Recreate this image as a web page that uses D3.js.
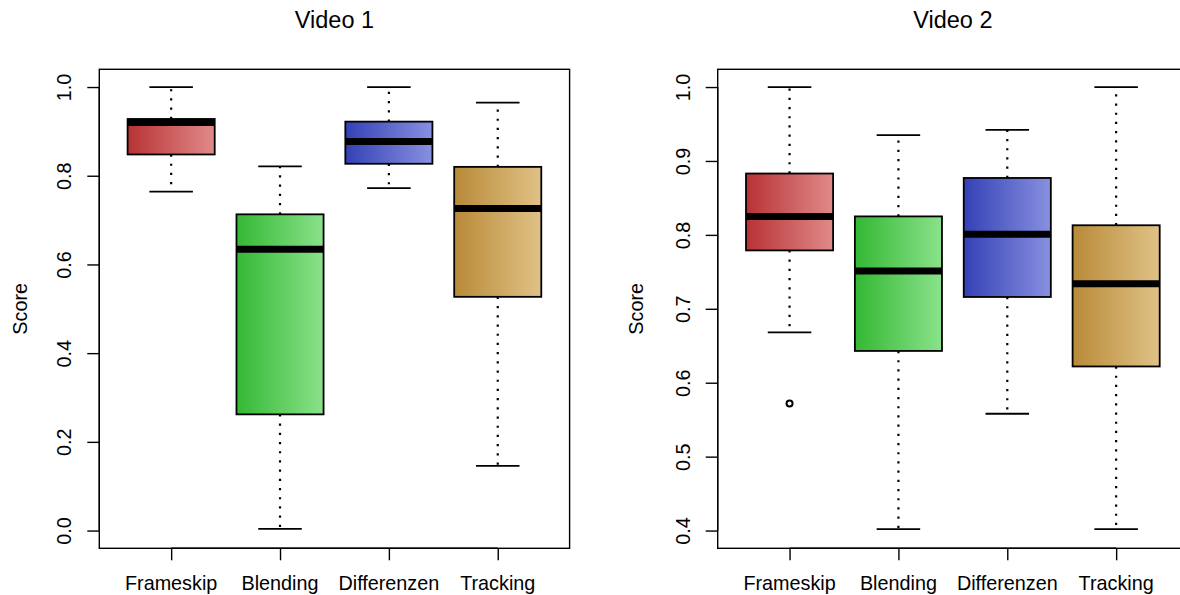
<!DOCTYPE html>
<html>
<head>
<meta charset="utf-8">
<script src="https://cdn.jsdelivr.net/npm/d3@7"></script>
<style>
  html, body { margin: 0; padding: 0; background: #fff; }
  svg { display: block; }
  text { font-family: "Liberation Sans", Arial, sans-serif; fill: #000; }
</style>
</head>
<body>
<svg id="chart" width="1180" height="595"></svg>
<script>
// Methods compared in each video
const categories = ["Frameskip", "Blending", "Differenzen", "Tracking"];

// Video 1 box statistics (whisker ends, quartiles, median)
const v1Lower  = [0.764, 0.004, 0.772, 0.146];
const v1Q1     = [0.848, 0.262, 0.827, 0.527];
const v1Median = [0.920, 0.634, 0.877, 0.726];
const v1Q3     = [0.928, 0.713, 0.922, 0.820];
const v1Upper  = [1.000, 0.821, 1.000, 0.965];
const v1Ticks  = [0.0, 0.2, 0.4, 0.6, 0.8, 1.0];
const v1Domain = [0, 1];

// Video 2 box statistics
const v2Lower  = [0.668, 0.402, 0.558, 0.402];
const v2Q1     = [0.779, 0.643, 0.716, 0.622];
const v2Median = [0.825, 0.751, 0.801, 0.734];
const v2Q3     = [0.883, 0.825, 0.877, 0.813];
const v2Upper  = [1.000, 0.935, 0.942, 1.000];
const v2OutlierCat = ["Frameskip"];
const v2OutlierVal = [0.572];
const v2Ticks  = [0.4, 0.5, 0.6, 0.7, 0.8, 0.9, 1.0];
const v2Domain = [0.4, 1];

// Fill gradients per method: [left colour, right colour]
const gradStart = ["#b83234", "#34b834", "#3441b5", "#b88a38"];
const gradEnd   = ["#e18a8a", "#8ae28a", "#8890e0", "#e0c287"];

const svg = d3.select("#chart");
const defs = svg.append("defs");
categories.forEach((c, i) => {
  const g = defs.append("linearGradient")
    .attr("id", "grad" + i)
    .attr("x1", 0).attr("x2", 1).attr("y1", 0).attr("y2", 0);
  g.append("stop").attr("offset", "0%").attr("stop-color", gradStart[i]);
  g.append("stop").attr("offset", "100%").attr("stop-color", gradEnd[i]);
});

const FONT = 19.8;
const TITLE_FONT = 23.5;

function panel(opts) {
  const { left, right, top, bottom, title, domain, ticks,
          lower, q1, median, q3, upper, outCat, outVal,
          tickLabelX, yLabelX } = opts;

  // y domain extended by 4% as in a classic box plot device
  const span = domain[1] - domain[0];
  const y = d3.scaleLinear()
    .domain([domain[0] - 0.04 * span, domain[1] + 0.04 * span])
    .range([bottom, top]);

  const x = d3.scalePoint()
    .domain(categories)
    .range([left, right])
    .padding(0.66);
  const step = x.step();
  const boxW = 0.8 * step;
  const stapleW = 0.4 * step;

  const g = svg.append("g");

  // title
  g.append("text")
    .attr("x", (left + right) / 2)
    .attr("y", 28)
    .attr("text-anchor", "middle")
    .style("font-size", TITLE_FONT + "px")
    .text(title);

  const rows = categories.map((c, i) => ({
    c, i, lo: lower[i], q1: q1[i], med: median[i], q3: q3[i], hi: upper[i]
  }));

  const bx = g.selectAll("g.box").data(rows).join("g").attr("class", "box");

  // whiskers (dotted)
  bx.append("line")
    .attr("x1", d => x(d.c)).attr("x2", d => x(d.c))
    .attr("y1", d => y(d.q3)).attr("y2", d => y(d.hi))
    .attr("stroke", "#000").attr("stroke-width", 2.2)
    .attr("stroke-dasharray", "2.2 7");
  bx.append("line")
    .attr("x1", d => x(d.c)).attr("x2", d => x(d.c))
    .attr("y1", d => y(d.q1)).attr("y2", d => y(d.lo))
    .attr("stroke", "#000").attr("stroke-width", 2.2)
    .attr("stroke-dasharray", "2.2 7");

  // staples
  bx.append("line")
    .attr("x1", d => x(d.c) - stapleW / 2).attr("x2", d => x(d.c) + stapleW / 2)
    .attr("y1", d => y(d.hi)).attr("y2", d => y(d.hi))
    .attr("stroke", "#000").attr("stroke-width", 1.8);
  bx.append("line")
    .attr("x1", d => x(d.c) - stapleW / 2).attr("x2", d => x(d.c) + stapleW / 2)
    .attr("y1", d => y(d.lo)).attr("y2", d => y(d.lo))
    .attr("stroke", "#000").attr("stroke-width", 1.8);

  // boxes
  bx.append("rect")
    .attr("x", d => x(d.c) - boxW / 2)
    .attr("width", boxW)
    .attr("y", d => y(d.q3))
    .attr("height", d => y(d.q1) - y(d.q3))
    .attr("fill", d => `url(#grad${d.i})`)
    .attr("stroke", "#000").attr("stroke-width", 1.8);

  // medians
  bx.append("line")
    .attr("x1", d => x(d.c) - boxW / 2).attr("x2", d => x(d.c) + boxW / 2)
    .attr("y1", d => y(d.med)).attr("y2", d => y(d.med))
    .attr("stroke", "#000").attr("stroke-width", 7);

  // outliers
  if (outCat) {
    g.selectAll("circle.out")
      .data(outCat.map((c, k) => ({ c, v: outVal[k] })))
      .join("circle")
      .attr("class", "out")
      .attr("cx", d => x(d.c)).attr("cy", d => y(d.v))
      .attr("r", 3)
      .attr("fill", "none").attr("stroke", "#000").attr("stroke-width", 2);
  }

  // frame
  g.append("rect")
    .attr("x", left).attr("y", top)
    .attr("width", right - left).attr("height", bottom - top)
    .attr("fill", "none").attr("stroke", "#000").attr("stroke-width", 1.4);

  // y axis
  const yAxis = d3.axisLeft(y)
    .tickValues(ticks)
    .tickSize(12)
    .tickFormat(d3.format(".1f"));
  const ya = g.append("g")
    .attr("transform", `translate(${left},0)`)
    .call(yAxis);
  ya.select(".domain")
    .attr("d", `M0,${y(ticks[0])}V${y(ticks[ticks.length - 1])}`)
    .attr("stroke-width", 1.4);
  ya.selectAll(".tick line").attr("stroke-width", 1.4);
  ya.selectAll(".tick text")
    .attr("x", null).attr("dy", null)
    .attr("transform", `translate(${tickLabelX - left},0) rotate(-90)`)
    .attr("text-anchor", "middle")
    .style("font-size", FONT + "px")
    .style("font-family", '"Liberation Sans", Arial, sans-serif');

  // x axis
  const xAxis = d3.axisBottom(x).tickSize(12).tickFormat(() => "");
  const xa = g.append("g")
    .attr("transform", `translate(0,${bottom})`)
    .call(xAxis);
  xa.select(".domain")
    .attr("d", `M${x(categories[0])},0H${x(categories[categories.length - 1])}`)
    .attr("stroke-width", 1.4);
  xa.selectAll(".tick line").attr("stroke-width", 1.4);

  g.selectAll("text.xlab")
    .data(categories)
    .join("text")
    .attr("class", "xlab")
    .attr("x", d => x(d))
    .attr("y", 590)
    .attr("text-anchor", "middle")
    .style("font-size", FONT + "px")
    .text(d => d);

  // y axis title
  g.append("text")
    .attr("transform", `translate(${yLabelX},${(top + bottom) / 2}) rotate(-90)`)
    .attr("text-anchor", "middle")
    .style("font-size", FONT + "px")
    .text("Score");
}

panel({
  left: 99.3, right: 569.6, top: 69.3, bottom: 548.3,
  title: "Video 1", domain: v1Domain, ticks: v1Ticks,
  lower: v1Lower, q1: v1Q1, median: v1Median, q3: v1Q3, upper: v1Upper,
  tickLabelX: 71, yLabelX: 27
});

panel({
  left: 717.7, right: 1188, top: 69.3, bottom: 548.3,
  title: "Video 2", domain: v2Domain, ticks: v2Ticks,
  lower: v2Lower, q1: v2Q1, median: v2Median, q3: v2Q3, upper: v2Upper,
  outCat: v2OutlierCat, outVal: v2OutlierVal,
  tickLabelX: 690, yLabelX: 643
});
</script>
</body>
</html>
